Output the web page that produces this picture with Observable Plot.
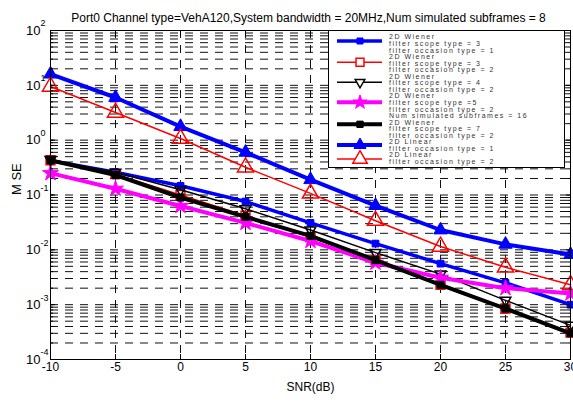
<!DOCTYPE html>
<html><head><meta charset="utf-8">
<script src="https://cdn.jsdelivr.net/npm/d3@7"></script>
<script src="https://cdn.jsdelivr.net/npm/@observablehq/plot@0.6"></script>
<style>
body{margin:0;background:#fff;}
#chart svg{display:block;}
</style>
</head><body><div id="chart"></div>
<script>
// ---- data ----
const snr = [-10, -5, 0, 5, 10, 15, 20, 25, 30];
const wienerS3O1 = [0.42, 0.26, 0.147, 0.076, 0.031, 0.013, 0.0056, 0.0025, 0.001];
const wienerS3O2 = [0.43, 0.24, 0.10, 0.042, 0.017, 0.0065, 0.0023, 0.00085, 0.00031];
const wienerS4O2 = [0.44, 0.26, 0.125, 0.056, 0.023, 0.0089, 0.0036, 0.0012, 0.00042];
const wienerS5O2 = [0.25, 0.13, 0.063, 0.031, 0.0145, 0.0058, 0.0031, 0.002, 0.0016];
const wienerS7O2 = [0.43, 0.23, 0.09, 0.04, 0.018, 0.0065, 0.0023, 0.00085, 0.0003];
const linearO1 = [16, 6.0, 1.77, 0.6, 0.19, 0.064, 0.023, 0.0126, 0.0082];
const linearO2 = [9.5, 3.2, 1.07, 0.32, 0.107, 0.034, 0.0115, 0.0048, 0.0023];
const xTicks = [-10, -5, 0, 5, 10, 15, 20, 25, 30];
const yExponents = [-4, -3, -2, -1, 0, 1, 2];
const legendLabels = [
  ["2D Wiener", "filter scope type = 3", "filter occasion type = 1"],
  ["2D Wiener", "filter scope type = 3", "filter occasion type = 2"],
  ["2D Wiener", "filter scope type = 4", "filter occasion type = 2"],
  ["2D Wiener", "filter scope type =5", "filter occasion type = 2", "Num simulated subframes = 16"],
  ["2D Wiener", "filter scope type = 7", "filter occasion type = 2"],
  ["2D Linear", "filter occasion type = 1"],
  ["2D Linear", "filter occasion type = 2"]
];
const titleText = "Port0 Channel type=VehA120,System bandwidth = 20MHz,Num simulated subframes = 8";
const xLabel = "SNR(dB)";
const yLabel = "M SE";

// ---- styles ----
const styles = [
  {values: wienerS3O1, color: "#0000ff", w: 3.5, symbol: "square", filled: true, r: 3.8, rotate: 0},
  {values: wienerS3O2, color: "#ff0000", w: 1.5, symbol: "square", filled: false, r: 5, rotate: 0},
  {values: wienerS4O2, color: "#000000", w: 1.5, symbol: "triangle", filled: false, r: 4, rotate: 180},
  {values: wienerS5O2, color: "#ff00ff", w: 4, symbol: "star", filled: true, r: 5, rotate: 0},
  {values: wienerS7O2, color: "#000000", w: 4, symbol: "square", filled: true, r: 4, rotate: 0},
  {values: linearO1, color: "#0000ff", w: 4, symbol: "triangle", filled: true, r: 5, rotate: 0},
  {values: linearO2, color: "#ff0000", w: 1.5, symbol: "triangle", filled: false, r: 6, rotate: 0}
];

const gridY = [];
for (let k = -4; k <= 1; k++) for (let m = 1; m <= 9; m++) if (!(k === -4 && m === 1)) gridY.push(m * 10 ** k);
const majorY = yExponents.map(e => 10 ** e);

const W = 573, H = 403;
const marks = [
  Plot.ruleY(gridY, {stroke: "#111", strokeWidth: 1, strokeDasharray: "8,7"}),
  Plot.ruleX(xTicks.slice(1, -1), {stroke: "#111", strokeWidth: 1, strokeDasharray: "8,7"})
];
styles.forEach(s => {
  const rows = snr.map((x, i) => ({snr: x, mse: s.values[i]}));
  marks.push(Plot.line(rows, {x: "snr", y: "mse", stroke: s.color, strokeWidth: s.w}));
  marks.push(Plot.dot(rows, {
    x: "snr", y: "mse", symbol: () => s.symbol, r: s.r, rotate: s.rotate,
    fill: s.filled ? s.color : "none", stroke: s.color, strokeWidth: s.filled ? 1 : 1.5
  }));
});
marks.push(
  Plot.frame({stroke: "#000", strokeWidth: 1}),
  Plot.axisX(xTicks, {anchor: "bottom", tickSize: -5, tickPadding: 8, fontSize: 12, label: null, tickFormat: d => String(d), stroke: "#000"}),
  Plot.axisX(xTicks, {anchor: "top", tickSize: -5, tickFormat: () => "", label: null}),
  Plot.axisY(gridY, {anchor: "left", tickSize: -3, tickFormat: () => "", label: null}),
  Plot.axisY(gridY, {anchor: "right", tickSize: -3, tickFormat: () => "", label: null}),
  Plot.axisY(majorY, {anchor: "left", tickSize: -5, tickFormat: () => "", label: null}),
  Plot.axisY(majorY, {anchor: "right", tickSize: -5, tickFormat: () => "", label: null}),
  Plot.text(yExponents, {y: d => 10 ** d, frameAnchor: "left", dx: -10, textAnchor: "end", text: () => "10", fontSize: 13}),
  Plot.text(yExponents, {y: d => 10 ** d, frameAnchor: "left", dx: -10, dy: -7, textAnchor: "start", text: d => String(d), fontSize: 9}),
  Plot.text([yLabel], {frameAnchor: "left", dx: -34, rotate: -90, fontSize: 13, text: d => d}),
  Plot.text([xLabel], {frameAnchor: "bottom", dy: 31, fontSize: 12, text: d => d}),
  Plot.text([titleText], {frameAnchor: "top", dy: -17, dx: -2, fontSize: 12, text: d => d})
);

const chart = Plot.plot({
  width: W, height: H,
  marginLeft: 50, marginRight: 3, marginTop: 30, marginBottom: 44,
  style: {fontFamily: "'Liberation Sans', Arial, sans-serif", background: "#fff", color: "#000"},
  x: {domain: [-10, 30], label: null, axis: null},
  y: {type: "log", domain: [1e-4, 100], label: null, axis: null},
  marks
});
document.getElementById("chart").appendChild(chart);

// ---- legend (drawn in the plot's svg) ----
const svg = d3.select(chart);
const lg = svg.append("g").attr("font-family", "'Liberation Sans', Arial, sans-serif").attr("text-anchor", "start");
lg.append("rect").attr("x", 328.5).attr("y", 30.5).attr("width", 236).attr("height", 137)
  .attr("fill", "#fff").attr("stroke", "#000").attr("stroke-width", 1);
const sampleY = [41, 62.3, 82.3, 102.3, 124.3, 145, 159];
const symMap = {square: d3.symbolSquare, triangle: d3.symbolTriangle, star: d3.symbolStar};
let lineIdx = 0;
styles.forEach((s, i) => {
  const y = sampleY[i];
  lg.append("line").attr("x1", 337).attr("x2", 382).attr("y1", y).attr("y2", y)
    .attr("stroke", s.color).attr("stroke-width", s.w);
  lg.append("path").attr("d", d3.symbol(symMap[s.symbol], Math.PI * s.r * s.r * 0.8)())
    .attr("transform", `translate(360,${y}) rotate(${s.rotate})`)
    .attr("fill", s.filled ? s.color : "#fff").attr("stroke", s.color).attr("stroke-width", s.filled ? 1 : 1.5);
  legendLabels[i].forEach(t => {
    lg.append("text").attr("x", 389).attr("y", 37 + lineIdx * 6.55).attr("dy", "0.35em")
      .attr("text-anchor", "start")
      .attr("font-size", 7).attr("letter-spacing", 1.5).attr("fill", "#333").text(t);
    lineIdx++;
  });
});
</script>
</body></html>
